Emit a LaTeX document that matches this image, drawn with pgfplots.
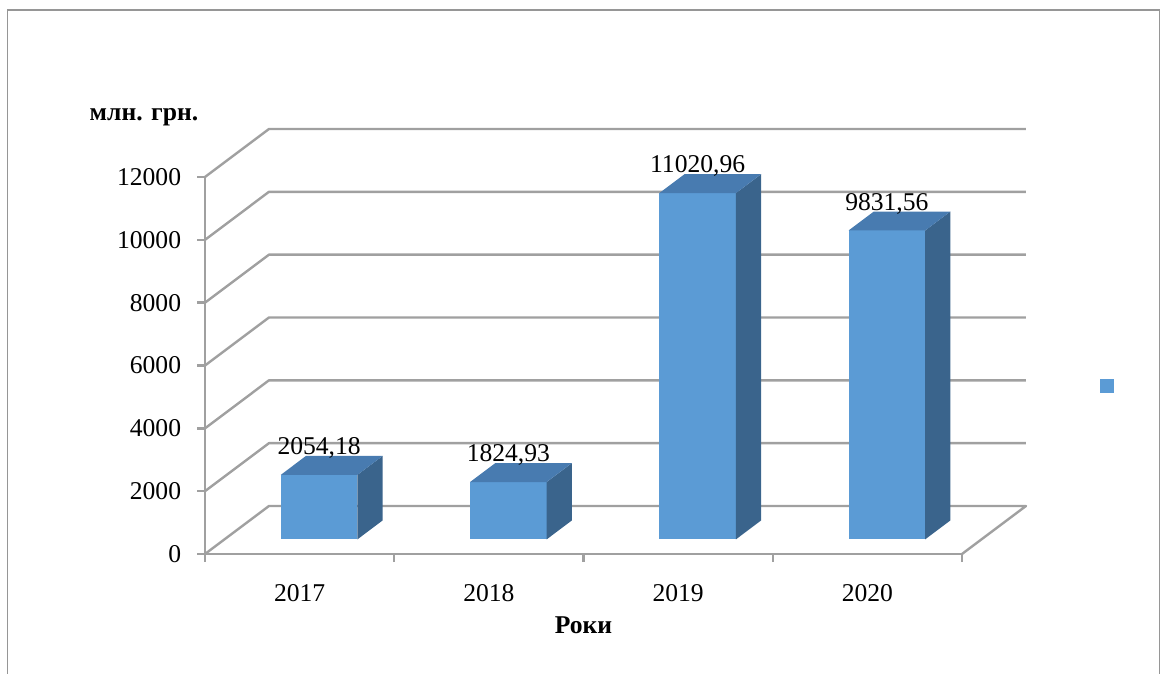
\documentclass[border=0pt]{standalone}
\usepackage{fontspec}
\setmainfont{Liberation Serif}
\usepackage{pgfplots}
\pgfplotsset{compat=1.18}
\definecolor{barfront}{RGB}{91,155,213}
\definecolor{bartop}{RGB}{72,123,176}
\definecolor{barside}{RGB}{58,100,140}
\definecolor{gridgray}{RGB}{160,160,160}
\definecolor{framegray}{RGB}{150,150,150}
% 3D bar: #1 category index, #2 value, #3 label text
\newcommand\threedbar[3]{%
 \pgfmathsetmacro\xa{#1-0.0993}%
 \pgfmathsetmacro\xb{#1+0.3055}%
 \pgfmathsetmacro\xc{#1+0.4390}%
 \pgfmathsetmacro\xd{#1+0.0342}%
 \pgfmathsetmacro\xm{#1+0.1031}%
 \pgfmathsetmacro\yb{#2+466}%
 \pgfmathsetmacro\yc{#2+1070}%
 \edef\temp{%
  \noexpand\addplot[fill=barfront,draw=none,forget plot] coordinates {(\xa,466) (\xb,466) (\xb,\yb) (\xa,\yb)};
  \noexpand\addplot[fill=barside,draw=none,forget plot] coordinates {(\xb,466) (\xc,1070) (\xc,\yc) (\xb,\yb)};
  \noexpand\addplot[fill=bartop,draw=none,forget plot] coordinates {(\xa,\yb) (\xb,\yb) (\xc,\yc) (\xd,\yc)};
  \noexpand\node[anchor=center] at (axis cs:\xm,\yb) [yshift=13.5pt] {#3};
 }\temp}
\begin{document}
\fontsize{12.8}{15.4}\selectfont
\begin{tikzpicture}
\useasboundingbox (0,0) rectangle (582pt,-337pt);
\begin{scope}[x=0.5pt,y=-0.5pt]
 \draw[framegray, line width=0.8pt] (7.5,690) -- (7.5,10) -- (1159.5,10) -- (1159.5,690);
 \fill[barfront] (1100,379) rectangle (1114,393);
\end{scope}
\begin{axis}[
  at={(102.5pt,-277pt)}, anchor=south west,
  scale only axis, width=378.5pt, height=188.5pt,
  xmin=-0.5, xmax=3.5, ymin=0, ymax=12000,
  enlargelimits=false, clip=false,
  axis x line*=bottom, axis y line*=left,
  axis line style={draw=gridgray, line width=1.2pt, -},
  tick style={draw=gridgray, line width=1.2pt},
  tick align=outside, major tick length=4pt,
  xtick={-0.5,0.5,1.5,2.5,3.5},
  x tick label as interval,
  xticklabels={2017,2018,2019,2020},
  x tick label style={yshift=-7pt},
  ytick={0,2000,4000,6000,8000,10000,12000},
  scaled y ticks=false,
  y tick label style={/pgf/number format/1000 sep={}, /pgf/number format/assume math mode=true, xshift=-3.5pt},
  xlabel={\textbf{Роки}},
  xlabel style={at={(rel axis cs:0.5,-0.188)}, anchor=center},
  ylabel={\textbf{млн. грн.}},
  every axis y label/.style={at={(rel axis cs:-0.0806,1.159)}, anchor=center},
]
\draw[gridgray, line width=1.2pt, line join=round] (axis cs:-0.5,0) -- (axis cs:-0.162,1528) -- (axis cs:3.838,1528) -- (axis cs:3.5,0);
\draw[gridgray, line width=1.2pt, line join=round] (axis cs:-0.5,2000) -- (axis cs:-0.162,3528) -- (axis cs:3.838,3528);
\draw[gridgray, line width=1.2pt, line join=round] (axis cs:-0.5,4000) -- (axis cs:-0.162,5528) -- (axis cs:3.838,5528);
\draw[gridgray, line width=1.2pt, line join=round] (axis cs:-0.5,6000) -- (axis cs:-0.162,7528) -- (axis cs:3.838,7528);
\draw[gridgray, line width=1.2pt, line join=round] (axis cs:-0.5,8000) -- (axis cs:-0.162,9528) -- (axis cs:3.838,9528);
\draw[gridgray, line width=1.2pt, line join=round] (axis cs:-0.5,10000) -- (axis cs:-0.162,11528) -- (axis cs:3.838,11528);
\draw[gridgray, line width=1.2pt, line join=round] (axis cs:-0.5,12000) -- (axis cs:-0.162,13528) -- (axis cs:3.838,13528);
\threedbar{0}{2054.18}{2054,18}
\threedbar{1}{1824.93}{1824,93}
\threedbar{2}{11020.96}{11020,96}
\threedbar{3}{9831.56}{9831,56}
\end{axis}
\end{tikzpicture}
\end{document}
